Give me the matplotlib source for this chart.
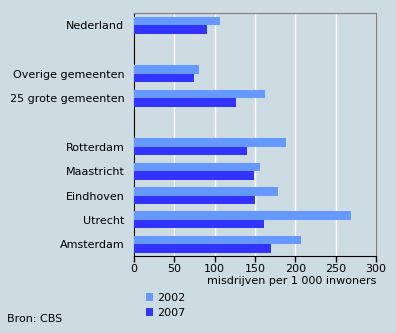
import numpy as np
import matplotlib.pyplot as plt

# crime per 1 000 inhabitants, rows drawn bottom-up
labels = ["Amsterdam", "Utrecht", "Eindhoven", "Maastricht", "Rotterdam",
          "25 grote gemeenten", "Overige gemeenten", "Nederland"]
slots = [0, 1, 2, 3, 4, 6, 7, 9]
v2002 = [207, 269, 178, 156, 188, 162, 80, 106]
v2007 = [170, 161, 150, 149, 140, 126, 74, 90]

BG = "#cddce2"
C2002 = "#6699ff"
C2007 = "#3333ff"
FS = 8

plt.rcParams["font.family"] = "DejaVu Sans"
fig = plt.figure(figsize=(3.96, 3.33), dpi=100, facecolor=BG)
ax = fig.add_axes([134/396, 1 - 256/333, 242/396, 243/333], facecolor=BG)

y = np.array(slots, dtype=float)
h = 0.35
b1 = ax.barh(y + h/2, v2002, height=h, color=C2002, label="2002", zorder=3)
b2 = ax.barh(y - h/2, v2007, height=h, color=C2007, label="2007", zorder=3)

ax.set_xlim(0, 300)
ax.set_ylim(-0.48, 9.5)
ax.set_xticks(range(0, 301, 50))
ax.set_yticks(slots)
ax.set_yticklabels(labels, fontsize=FS)
ax.tick_params(axis="y", length=0, pad=7)
ax.tick_params(axis="x", length=4, width=1, labelsize=FS, pad=2)
ax.grid(axis="x", color="white", linewidth=1, zorder=1)

for s in ("top", "right"):
    ax.spines[s].set_color("#808080")
for s in ("left", "bottom"):
    ax.spines[s].set_color("black")

ax.set_xlabel("misdrijven per 1 000 inwoners", fontsize=FS, labelpad=1,
              x=1.0, ha="right")

fig.legend([b1, b2], ["2002", "2007"], loc="upper left",
           bbox_to_anchor=(140/396, 1 - 287/333), frameon=False,
           fontsize=FS, handlelength=0.7, handleheight=0.7,
           handletextpad=0.3, labelspacing=0.5, borderpad=0)

fig.text(7/396, 1 - 319/333, "Bron: CBS", fontsize=FS, va="center")

fig.savefig("out.png", dpi=100, facecolor=BG)
